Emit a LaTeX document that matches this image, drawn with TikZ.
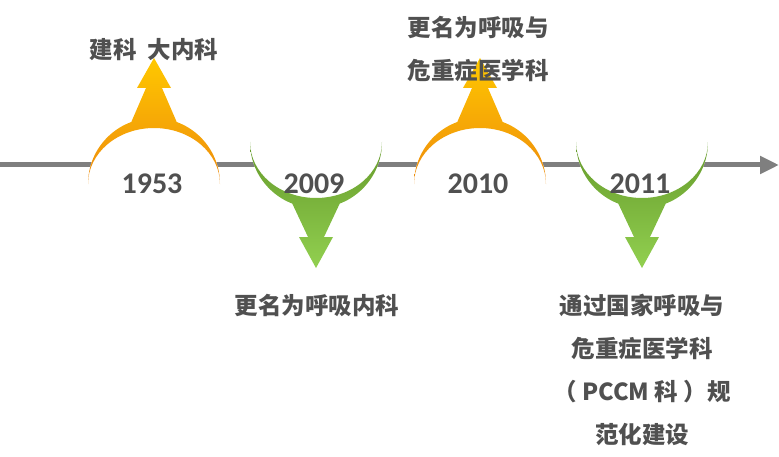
\documentclass[tikz,border=0pt]{standalone}
\usepackage{fontspec}
\setmainfont{Carlito}
\newfontfamily\cjk{Noto Sans CJK SC}
\usetikzlibrary{arrows.meta}
\definecolor{txtgray}{HTML}{505050}
\definecolor{linegray}{HTML}{7F7F7F}
\definecolor{upTop}{HTML}{FFC800}
\definecolor{upBot}{HTML}{EE8A0C}
\definecolor{dnTop}{HTML}{659A2B}
\definecolor{dnBot}{HTML}{92D050}
\tikzset{
  yearlbl/.style={text=txtgray, font=\fontsize{30}{34}\selectfont\bfseries},
  eventlbl/.style={text=txtgray, font=\cjk\fontsize{23.5}{43}\selectfont\bfseries, align=center}
}
\begin{document}
\begin{tikzpicture}[x=1pt,y=1pt]
  \useasboundingbox (0,0) rectangle (779,456);
  % time axis
  \draw[linegray, line width=5pt, -{Triangle[length=19pt,width=17pt]}] (0,291) -- (779,291);
  % rising marks
  \foreach \cx in {154,480} {
    \fill[white] (\cx-66,272) arc (180:0:66) -- cycle;
    \shade[top color=upTop, bottom color=upBot]
      (\cx-66,272) arc (180:0:66) arc (0:180:66 and 56) -- cycle
      (\cx-24,331) -- (\cx-8,368) -- (\cx-17,368) -- (\cx,398) -- (\cx+17,368) -- (\cx+8,368) -- (\cx+24,331) -- cycle;
  }
  % falling marks
  \foreach \cx in {316,642} {
    \fill[white] (\cx-66,314) arc (180:360:66) -- cycle;
    \shade[top color=dnTop, bottom color=dnBot]
      (\cx-66,314) arc (180:360:66) arc (0:-180:66 and 56) -- cycle
      (\cx-24,253) -- (\cx-8,219) -- (\cx-17,219) -- (\cx,188) -- (\cx+17,219) -- (\cx+8,219) -- (\cx+24,253) -- cycle;
  }
  % years
  \node[yearlbl] (y1953) at (152,272) {1953};
  \node[yearlbl] (y2009) at (314,272) {2009};
  \node[yearlbl] (y2010) at (478,272) {2010};
  \node[yearlbl] (y2011) at (640,272) {2011};
  % events
  \node[eventlbl] (e1953) at (154,406) {建科\ \ 大内科};
  \node[eventlbl] (e2010) at (478,407) {更名为呼吸与\\危重症医学科};
  \node[eventlbl] (e2009) at (317,150) {更名为呼吸内科};
  \node[eventlbl] (e2011) at (642,86) {通过国家呼吸与\\危重症医学科\\（ PCCM 科 ）规\\范化建设};
\end{tikzpicture}
\end{document}
